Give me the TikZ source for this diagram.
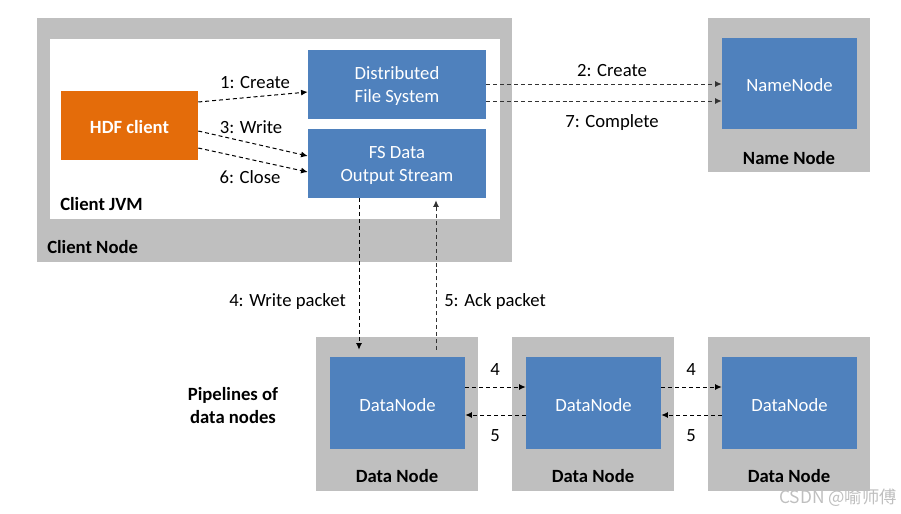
\documentclass[tikz,border=0pt]{standalone}
\usepackage{fontspec}
\setmainfont{Carlito}
\newfontfamily\cjkfont{Noto Sans CJK SC}
\usetikzlibrary{fit,calc,arrows.meta}
\definecolor{boxgray}{HTML}{BFBFBF}
\definecolor{nodeblue}{HTML}{4F81BD}
\definecolor{hdforange}{HTML}{E46C0A}
\definecolor{arrowgray}{HTML}{333333}
\begin{document}
\begin{tikzpicture}[x=0.75pt,y=-0.75pt,
  every node/.style={font=\fontsize{14}{17.25}\selectfont},
  graybox/.style={fill=boxgray, inner sep=0pt},
  whitebox/.style={fill=white, inner sep=0pt},
  bluebox/.style={fill=nodeblue, inner sep=0pt, text=white, align=center},
  orangebox/.style={fill=hdforange, inner sep=0pt},
  intext/.style={text=white, align=center, yshift=-1.5pt},
  boldlabel/.style={font=\fontsize{14}{17.25}\selectfont\bfseries, inner sep=0pt, yshift=-1pt},
  plainlabel/.style={inner sep=0pt, yshift=-1pt},
  flow/.style={draw=black, dashed, dash pattern=on 3pt off 2.2pt, line width=0.75pt, -{Latex[length=5pt,width=4.5pt]}},
  flowgray/.style={flow, draw=arrowgray}
]
\useasboundingbox (0,0) rectangle (901,514);

% Client node
\node[graybox, fit={(37,18) (512,262)}] (clientnode) {};
\node[whitebox, fit={(50,39) (500,219)}] (jvm) {};
\node[orangebox, fit={(61,91) (198,160)}] (hdf) {};
\node[intext, font=\fontsize{14}{17.25}\selectfont\bfseries] (hdftext) at (hdf.center) {HDF client};
\node[bluebox, fit={(308,50) (486,119)}] (dfs) {};
\node[intext] (dfstext) at (dfs.center) {Distributed\\File System};
\node[bluebox, fit={(308,129) (486,198)}] (fsd) {};
\node[intext] (fsdtext) at (fsd.center) {FS Data\\Output Stream};
\node[boldlabel, anchor=west] (jvmlabel) at (60,203) {Client JVM};
\node[boldlabel, anchor=west] (cnlabel) at (47,246) {Client Node};

% Name node
\node[graybox, fit={(708,18) (870,172)}] (namenodebox) {};
\node[bluebox, fit={(722,38) (857,129)}] (nn) {};
\node[intext] (nntext) at (nn.center) {NameNode};
\node[boldlabel] (nnlabel) at (789,157) {Name Node};

% Data nodes
\node[graybox, fit={(316,337) (478,491)}] (dnbox1) {};
\node[graybox, fit={(512,337) (674,491)}] (dnbox2) {};
\node[graybox, fit={(708,337) (870,491)}] (dnbox3) {};
\node[bluebox, fit={(330,357) (465,449)}] (dn1) {};
\node[bluebox, fit={(526,357) (661,449)}] (dn2) {};
\node[bluebox, fit={(722,357) (857,449)}] (dn3) {};
\node[intext] (dn1text) at (dn1.center) {DataNode};
\node[intext] (dn2text) at (dn2.center) {DataNode};
\node[intext] (dn3text) at (dn3.center) {DataNode};
\node[boldlabel] (dnl1) at (397,475) {Data Node};
\node[boldlabel] (dnl2) at (593,475) {Data Node};
\node[boldlabel] (dnl3) at (789,475) {Data Node};

\node[boldlabel, align=center] (pipe) at (233,404) {Pipelines of\\data nodes};

% Client internal arrows
\draw[flow] ($(hdf.east)+(0,-23.5)$) -- ($(dfs.west)+(0,7.5)$);
\draw[flow] ($(hdf.east)+(0,5.5)$) -- ($(fsd.west)+(0,-7.5)$);
\draw[flow] ($(hdf.east)+(0,22.5)$) -- ($(fsd.west)+(0,8.5)$);
\node[plainlabel] (l1) at (255,81) {1: Create};
\node[plainlabel] (l3) at (251,126) {3: Write};
\node[plainlabel] (l6) at (250,176) {6: Close};

% To name node
\draw[flowgray] ($(dfs.east)+(0,-0.5)$) -- ($(nn.west)+(0,0.5)$);
\draw[flowgray] ($(dfs.east)+(0,16.5)$) -- ($(nn.west)+(0,17.5)$);
\node[plainlabel] (l2) at (612,69) {2: Create};
\node[plainlabel] (l7) at (612,121) {7: Complete};

% Vertical arrows
\draw[flow] ($(fsd.south)+(-38,0)$) -- ($(dn1.north)+(-38.5,-7)$);
\draw[flowgray] ($(dn1.north)+(38.5,-7)$) -- ($(fsd.south)+(39,2)$);
\node[plainlabel, anchor=east] (l4) at (346,300) {4: Write packet};
\node[plainlabel, anchor=west] (l5) at (444,300) {5: Ack packet};

% Pipeline arrows
\draw[flow] ($(dn1.east)+(0,-16)$) -- ($(dn2.west)+(0,-16)$);
\draw[flow] ($(dn2.west)+(0,12)$) -- ($(dn1.east)+(0,12)$);
\draw[flow] ($(dn2.east)+(0,-16)$) -- ($(dn3.west)+(0,-16)$);
\draw[flow] ($(dn3.west)+(0,12)$) -- ($(dn2.east)+(0,12)$);
\node[plainlabel] (p4a) at (495,368) {4};
\node[plainlabel] (p5a) at (495,434) {5};
\node[plainlabel] (p4b) at (691,368) {4};
\node[plainlabel] (p5b) at (691,434) {5};

% Watermark
\node[inner sep=0pt, text=black!25, font=\cjkfont\fontsize{13}{15}\selectfont] (wm) at (838,498) {CSDN @喻师傅};
\end{tikzpicture}
\end{document}
